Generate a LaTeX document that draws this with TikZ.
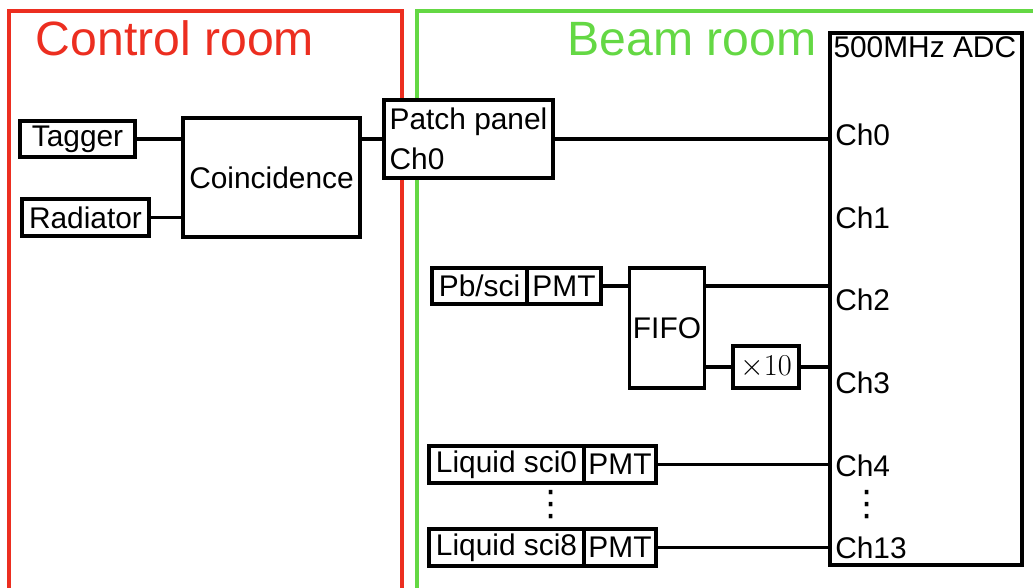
\documentclass[tikz,border=0pt]{standalone}
\usepackage{fontspec}
\setmainfont{Liberation Sans}
\newfontfamily\symfont{DejaVu Sans}
\definecolor{ctrlred}{RGB}{236,46,32}
\definecolor{beamgreen}{RGB}{100,216,68}
\begin{document}
\begin{tikzpicture}[font=\fontsize{17}{23}\selectfont, line width=2pt,
    box/.style={draw, fill=white, line width=2pt, inner sep=2pt, minimum height=0.73cm},
    roomlabel/.style={anchor=base west, inner sep=0pt, font=\fontsize{27.4}{30}\selectfont},
    chan/.style={anchor=west, inner sep=2pt},
    dotcol/.style={inner sep=0pt, font=\symfont\fontsize{20}{20}\selectfont}]
    \useasboundingbox (0,0) rectangle (20.66,-11.76);
    \clip (0,0) rectangle (20.66,-11.76);

    % Rooms
    \draw[ctrlred, line width=2pt] (0.18,-12) -- (0.18,-0.22) -- (8.04,-0.22) -- (8.04,-12);
    \draw[beamgreen, line width=2pt] (8.34,-12) -- (8.34,-0.22) -- (21,-0.22);
    \node[roomlabel, text=ctrlred] (ctrllabel) at (0.68,-1.12) {Control room};
    \node[roomlabel, text=beamgreen] (beamlabel) at (11.32,-1.12) {Beam room};

    % Control room modules
    \node[box, minimum width=2.3cm] (tagger) at (1.55,-2.78) {Tagger};
    \node[box, minimum width=2.54cm] (radiator) at (1.71,-4.35) {Radiator};
    \node[box, minimum width=3.54cm, minimum height=2.38cm] (coinc) at (5.43,-3.55) {Coincidence};
    \node[box, minimum width=3.38cm, minimum height=1.56cm, align=left] (patch) at (9.37,-2.78) {Patch panel\\Ch0};

    % ADC
    \node[box, minimum width=3.84cm, minimum height=10.64cm] (adc) at (18.52,-5.98) {};
    \node[anchor=north west, inner sep=2pt] (adclabel) at (adc.north west) {500MHz ADC};
    \node[chan] (ch0) at (16.6,-2.70) {Ch0};
    \node[chan] (ch1) at (16.6,-4.36) {Ch1};
    \node[chan] (ch2) at (16.6,-6.00) {Ch2};
    \node[chan] (ch3) at (16.6,-7.66) {Ch3};
    \node[chan] (ch4) at (16.6,-9.32) {Ch4};
    \node[dotcol] (chdots) at (17.34,-10.1) {⋮};
    \node[chan] (ch13) at (16.6,-10.96) {Ch13};

    % Beam room detectors
    \node[box, minimum width=1.9cm] (pbsci) at (9.59,-5.72) {Pb/sci};
    \node[box, minimum width=1.48cm] (pmtpb) at (11.28,-5.72) {PMT};
    \node[box, minimum width=1.44cm, minimum height=2.4cm] (fifo) at (13.34,-6.56) {FIFO};
    \node[box, minimum width=1.32cm, minimum height=0.84cm] (amp) at (15.32,-7.34) {$\times 10$};
    \node[box, minimum width=3.1cm] (lsci0) at (10.13,-9.29) {Liquid sci0};
    \node[box, minimum width=1.44cm] (pmt0) at (12.4,-9.29) {PMT};
    \node[dotcol] (lscidots) at (11.02,-10.1) {⋮};
    \node[box, minimum width=3.1cm] (lsci8) at (10.13,-10.95) {Liquid sci8};
    \node[box, minimum width=1.44cm] (pmt8) at (12.4,-10.95) {PMT};

    % Control room cables
    \draw (tagger.east) -- (tagger.east -| coinc.west);
    \draw (radiator.east) -- (radiator.east -| coinc.west);
    \draw (coinc.east |- patch.west) -- (patch.west);

    % Cables to ADC
    \draw (patch.east) -- (patch.east -| adc.west);
    \draw (pmtpb.east) -- (pmtpb.east -| fifo.west);
    \draw (fifo.east |- pmtpb.east) -- (pmtpb.east -| adc.west);
    \draw (fifo.east |- amp.west) -- (amp.west);
    \draw (amp.east) -- (amp.east -| adc.west);
    \draw (pmt0.east) -- (pmt0.east -| adc.west);
    \draw (pmt8.east) -- (pmt8.east -| adc.west);
\end{tikzpicture}
\end{document}
